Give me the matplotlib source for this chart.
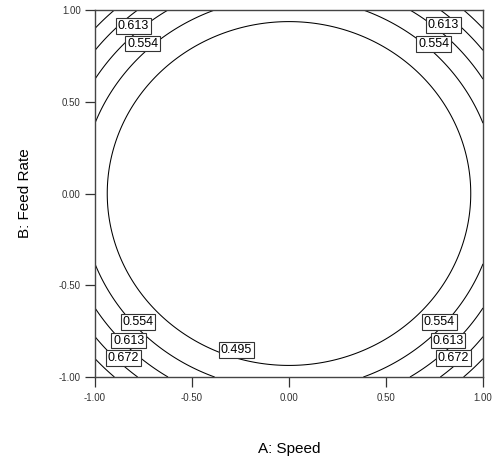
import numpy as np
import matplotlib
matplotlib.use('Agg')
import matplotlib.pyplot as plt

plt.rcParams['font.family'] = ['Liberation Sans', 'DejaVu Sans']

# contour levels shown on the chart (0.731 is drawn but not labelled)
levels = [0.495, 0.554, 0.613, 0.672, 0.731]
# fitted surface: ln(y) = b0 + b_quad*(A^2 + B^2)
b0 = -1.0703
b_quad = 0.4183

ticks = [-1.0, -0.5, 0.0, 0.5, 1.0]
tick_labels = ['-1.00', '-0.50', '0.00', '0.50', '1.00']

# label spots (level, A, B)
label_level = [0.613, 0.554, 0.613, 0.554, 0.554, 0.613, 0.672, 0.554, 0.613, 0.672, 0.495]
label_a = [-0.803, -0.754, 0.796, 0.746, -0.778, -0.826, -0.853, 0.775, 0.820, 0.847, -0.270]
label_b = [0.914, 0.817, 0.917, 0.816, -0.700, -0.801, -0.895, -0.700, -0.801, -0.895, -0.853]

a = np.linspace(-1, 1, 401)
b = np.linspace(-1, 1, 401)
A, B = np.meshgrid(a, b)
Z = np.exp(b0 + b_quad * (A**2 + B**2))

fig = plt.figure(figsize=(4.96, 4.59), dpi=100)
ax = fig.add_axes([0.1915, 0.1786, 0.7823, 0.7996])

cs = ax.contour(A, B, Z, levels=levels, colors='black', linewidths=0.75)

for lev, xa, yb in zip(label_level, label_a, label_b):
    ax.text(xa, yb, '%.3f' % lev, fontsize=9, ha='center', va='center',
            bbox=dict(facecolor='white', edgecolor='#333333', linewidth=0.8, pad=1.3))

ax.set_xlim(-1, 1)
ax.set_ylim(-1, 1)
ax.set_xticks(ticks)
ax.set_xticklabels(tick_labels)
ax.set_yticks(ticks)
ax.set_yticklabels(tick_labels)
ax.tick_params(direction='out', length=7.2, width=0.9, labelsize=7, colors='#333333')
ax.tick_params(axis='x', pad=4.5)
ax.tick_params(axis='y', pad=3)
for s in ax.spines.values():
    s.set_color('#444444')
    s.set_linewidth(1.0)

ax.set_xlabel('A: Speed', fontsize=11, labelpad=28)
ax.set_ylabel('B: Feed Rate', fontsize=11, labelpad=19)

plt.savefig('out.png', dpi=100)
